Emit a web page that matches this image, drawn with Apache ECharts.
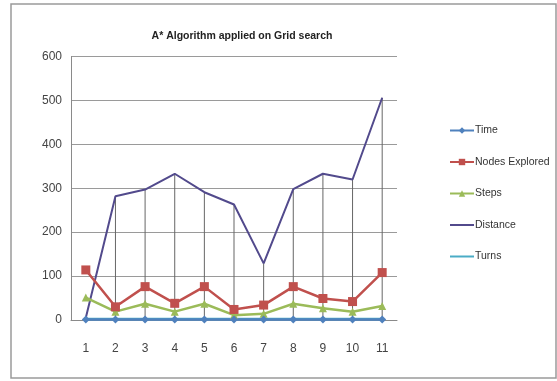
<!DOCTYPE html>
<html>
<head>
<meta charset="utf-8">
<script src="https://cdn.jsdelivr.net/npm/echarts@6/dist/echarts.min.js"></script>
<style>
  html, body { margin: 0; padding: 0; background: #fff; }
  #chart { width: 557px; height: 381px; }
</style>
</head>
<body>
<div id="chart"></div>
<script>
const categories = ['1', '2', '3', '4', '5', '6', '7', '8', '9', '10', '11'];
const timeValues = [1, 1, 1, 1, 1, 1, 1, 1, 1, 1, 1];
const nodesExplored = [114, 30, 76, 38, 76, 24, 34, 76, 49, 42, 108];
const steps = [51, 19, 37, 19, 37, 11, 14, 37, 27, 19, 32];
const distance = [5, 282, 297, 333, 291, 263, 129, 298, 333, 320, 506];
const turns = [2, 2, 2, 2, 2, 2, 2, 2, 2, 2, 2];
const yTicks = [0, 100, 200, 300, 400, 500, 600];

const font = "'Liberation Sans Narrow', 'Liberation Sans', sans-serif";

let myChart = echarts.init(document.getElementById('chart'));

let lineSeries = (name, data, color, symbol, size, width) => ({
  name: name,
  type: 'line',
  data: data,
  symbol: symbol,
  symbolSize: size,
  showSymbol: symbol !== 'none',
  z: 3,
  lineStyle: { color: color, width: width },
  itemStyle: { color: color }
});

let option = {
  animation: false,
  backgroundColor: '#fff',
  graphic: [{
    type: 'rect',
    shape: { x: 11, y: 4, width: 545, height: 374 },
    style: { fill: 'none', stroke: '#9a9a9a', lineWidth: 1.5 },
    z: -1
  }],
  title: {
    text: 'A* Algorithm applied on Grid search',
    left: 237,
    top: 26,
    textAlign: 'center',
    textStyle: { fontFamily: font, fontSize: 10.5, fontWeight: 'bold', color: '#222' }
  },
  legend: {
    orient: 'vertical',
    left: 444,
    top: 120,
    itemGap: 20.5,
    itemWidth: 24,
    itemHeight: 8,
    data: [
      'Time',
      'Nodes Explored',
      'Steps',
      { name: 'Distance', itemStyle: { opacity: 0 } },
      { name: 'Turns', itemStyle: { opacity: 0 } }
    ],
    textStyle: { fontFamily: font, fontSize: 10.5, color: '#333', padding: [0, 0, 0, -4] }
  },
  grid: { left: 71, right: 160, top: 56.5, bottom: 61 },
  xAxis: {
    type: 'category',
    data: categories,
    boundaryGap: true,
    axisTick: { show: false },
    axisLine: { lineStyle: { color: '#8a8a8a' } },
    axisLabel: { fontFamily: font, fontSize: 12, color: '#444', margin: 23 }
  },
  yAxis: {
    type: 'value',
    min: yTicks[0],
    max: yTicks[yTicks.length - 1],
    interval: 100,
    axisLine: { show: true, lineStyle: { color: '#8a8a8a' } },
    axisTick: { show: false },
    axisLabel: { fontFamily: font, fontSize: 12, color: '#444', margin: 9 },
    splitLine: { lineStyle: { color: '#9a9a9a' } }
  },
  series: [
    {
      // drop lines from the top series down to the axis
      name: 'drop',
      type: 'bar',
      data: distance,
      barWidth: 1,
      z: 1,
      silent: true,
      itemStyle: { color: '#666' }
    },
    lineSeries('Distance', distance, '#524a8c', 'none', 0, 2),
    lineSeries('Steps', steps, '#9bbb59', 'triangle', 8, 2.5),
    lineSeries('Nodes Explored', nodesExplored, '#c0504d', 'rect', 9, 2.5),
    lineSeries('Turns', turns, '#4bacc6', 'none', 0, 2.5),
    lineSeries('Time', timeValues, '#4f81bd', 'diamond', 8, 2.5)
  ]
};

myChart.setOption(option);
</script>
</body>
</html>
